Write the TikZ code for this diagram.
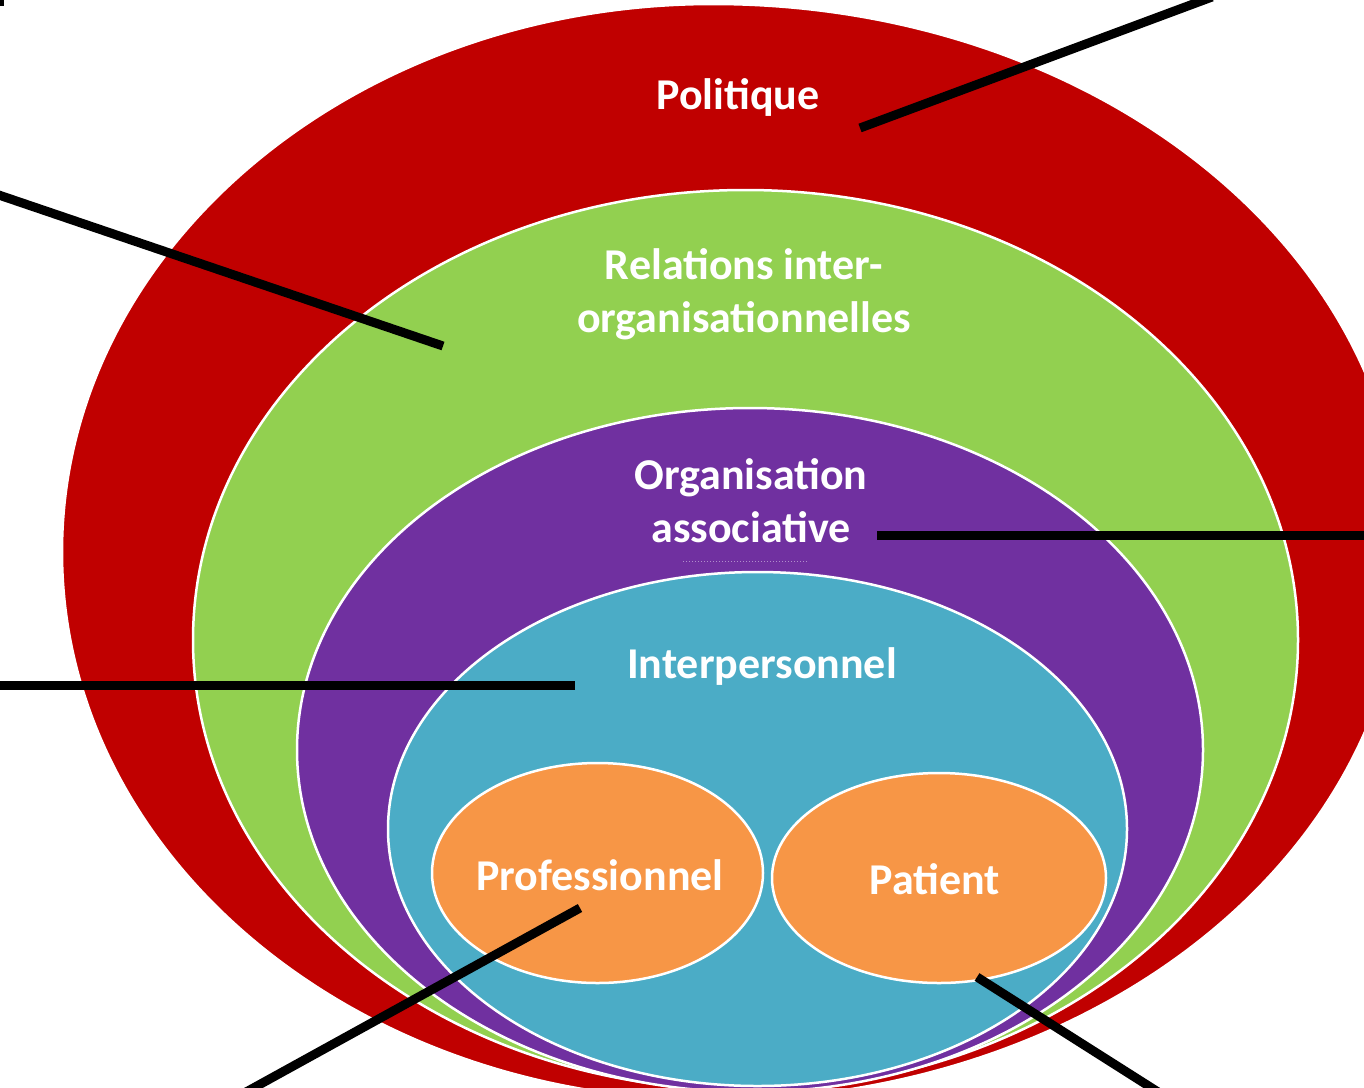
\documentclass[tikz,border=0pt]{standalone}
\usepackage{fontspec}
\setmainfont{Carlito}
\usetikzlibrary{shapes.geometric}
\definecolor{polred}{HTML}{C00000}
\definecolor{relgreen}{HTML}{92D050}
\definecolor{orgpurple}{HTML}{7030A0}
\definecolor{interteal}{HTML}{4BACC6}
\definecolor{persorange}{HTML}{F79646}
\tikzset{
  ring/.style={ellipse, draw=white, line width=2.5pt, inner sep=0pt, outer sep=0pt},
  lbl/.style={text=white, font=\bfseries\fontsize{44}{53}\selectfont, align=center, inner sep=0pt},
  pointer/.style={draw=black, line width=9pt}
}
\begin{document}
\begin{tikzpicture}[x=1pt,y=-1pt]
\useasboundingbox (0,0) rectangle (1364,1087);
\clip (0,0) rectangle (1364,1087);
% outer (political) level: slightly egg-shaped, wider on the right
\coordinate (poltop) at (713,4);
\path[fill=polred, draw=white, line width=2.5pt] (poltop)
  arc[start angle=90, end angle=270, x radius=651pt, y radius=548pt]
  arc[start angle=270, end angle=450, x radius=690pt, y radius=548pt] -- cycle;
% nested ellipses
\node[ring, fill=relgreen, minimum width=1105pt, minimum height=900pt] (rel) at (745.5,640) {};
\node[ring, fill=orgpurple, minimum width=906pt, minimum height=684pt] (org) at (750,750) {};
\node[ring, fill=interteal, minimum width=739pt, minimum height=514pt] (inter) at (757.5,829) {};
\node[ring, fill=persorange, minimum width=331pt, minimum height=220pt] (prof) at (597.5,873) {};
\node[ring, fill=persorange, minimum width=334pt, minimum height=210pt] (pat) at (939,878) {};
% faint dotted trace under the purple label
\draw[orgpurple!55!white, dotted, line width=1pt] (683,561) -- (807,561);
% labels
\node[lbl, anchor=base] (tpol) at (738,109) {Politique};
\node[lbl] (trel) at (744,294) {Relations inter-\\organisationnelles};
\node[lbl] (torg) at (751,501) {Organisation\\associative};
\node[lbl, anchor=base] (tint) at (762,678) {Interpersonnel};
\node[lbl, anchor=base] (tprof) at (600,890) {Professionnel};
\node[lbl, anchor=base] (tpat) at (935,894) {Patient};
% pointer lines
\coordinate (pA) at (860,128);  \coordinate (pAe) at (1212,-3);
\coordinate (pB) at (443,346);  \coordinate (pBe) at (-10,192);
\coordinate (pC) at (877,535);  \coordinate (pCe) at (1374,535);
\coordinate (pD) at (575,685);  \coordinate (pDe) at (-10,685);
\coordinate (pE) at (580,908);  \coordinate (pEe) at (237,1097);
\coordinate (pF) at (977,977);  \coordinate (pFe) at (1166,1097);
\draw[pointer] (pA) -- (pAe);
\draw[pointer] (pB) -- (pBe);
\draw[pointer] (pC) -- (pCe);
\draw[pointer] (pD) -- (pDe);
\draw[pointer] (pE) -- (pEe);
\draw[pointer] (pF) -- (pFe);
% small black mark at the top-left corner
\fill[black] (0,0) rectangle (4,6);
\end{tikzpicture}
\end{document}
